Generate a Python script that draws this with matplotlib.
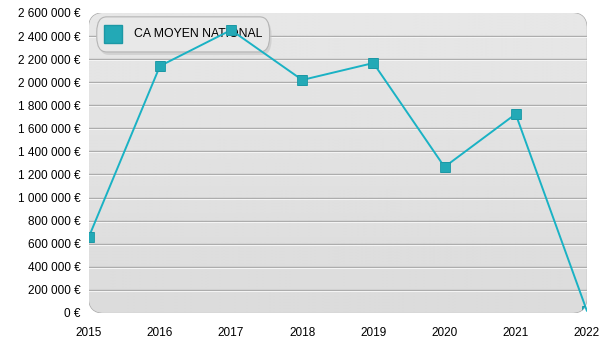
import numpy as np
import matplotlib.pyplot as plt
from matplotlib.patches import FancyBboxPatch
from matplotlib.ticker import FuncFormatter

plt.rcParams['font.family'] = ['Liberation Sans', 'DejaVu Sans']

years = [2015, 2016, 2017, 2018, 2019, 2020, 2021, 2022]
ca_moyen = [658000, 2140000, 2452000, 2019000, 2166000, 1265000, 1724000, 20000]
label = 'CA MOYEN NATIONAL'
line_color = '#1ab2c4'

fig = plt.figure(figsize=(6, 3.5), dpi=100)
ax = fig.add_axes([0.148, 0.106, 0.83, 0.857])
ax.set_xlim(2015, 2022)
ax.set_ylim(0, 2600000)
for s in ax.spines.values():
    s.set_visible(False)
ax.patch.set_visible(False)

# rounded gradient background
bg = FancyBboxPatch((0, 0), 1, 1, boxstyle='round,pad=0,rounding_size=0.03',
                    transform=ax.transAxes, facecolor='none', edgecolor='#a8a8a8',
                    lw=1.0, zorder=0, mutation_aspect=1.7)
ax.add_patch(bg)
grad = np.linspace(0.86, 0.905, 100).reshape(-1, 1)
im = ax.imshow(grad, cmap='gray', vmin=0, vmax=1, aspect='auto', origin='lower',
               extent=[2015, 2022, 0, 2600000], zorder=0)
im.set_clip_path(bg)

yt = np.arange(0, 2600001, 200000)
for v in yt[1:-1]:
    ax.axhline(v, color='#a9a9a9', lw=1.0, zorder=1)
    ax.axhline(v - 9000, color='#f4f4f4', lw=0.8, zorder=1)

ax.plot(years, ca_moyen, color=line_color, lw=1.4, zorder=3)
pts, = ax.plot(years, ca_moyen, ls='none', marker='s', ms=7.5, mfc='#23a9b6',
               mec='#1c98a5', mew=0.6, zorder=4)
pts.set_clip_path(bg)

ax.set_yticks(yt)
ax.yaxis.set_major_formatter(FuncFormatter(lambda v, p: f'{int(v):,} €'.replace(',', ' ')))
ax.set_xticks(years)
ax.tick_params(length=0, labelsize=8.5, colors='black', pad=6)
ax.tick_params(axis='x', pad=10)

# legend box
lg = FancyBboxPatch((0.016, 0.87), 0.347, 0.117, boxstyle='round,pad=0,rounding_size=0.02',
                    transform=ax.transAxes, facecolor='#e8e8e8', edgecolor='#b5b5b5',
                    lw=0.8, zorder=2, mutation_aspect=2.5)
shadow = FancyBboxPatch((0.02, 0.86), 0.347, 0.117, boxstyle='round,pad=0,rounding_size=0.02',
                        transform=ax.transAxes, facecolor='#c4c4c4', edgecolor='none',
                        zorder=1.9, alpha=0.6, mutation_aspect=2.5)
ax.add_patch(shadow)
ax.add_patch(lg)
ax.plot([0.048], [0.93], marker='s', ms=13, mfc='#23a9b6', mec='#1c98a5',
        transform=ax.transAxes, zorder=5)
ax.text(0.09, 0.93, label, transform=ax.transAxes, va='center', ha='left',
        fontsize=8.8, zorder=2.5)

fig.savefig('out.png', dpi=100)
